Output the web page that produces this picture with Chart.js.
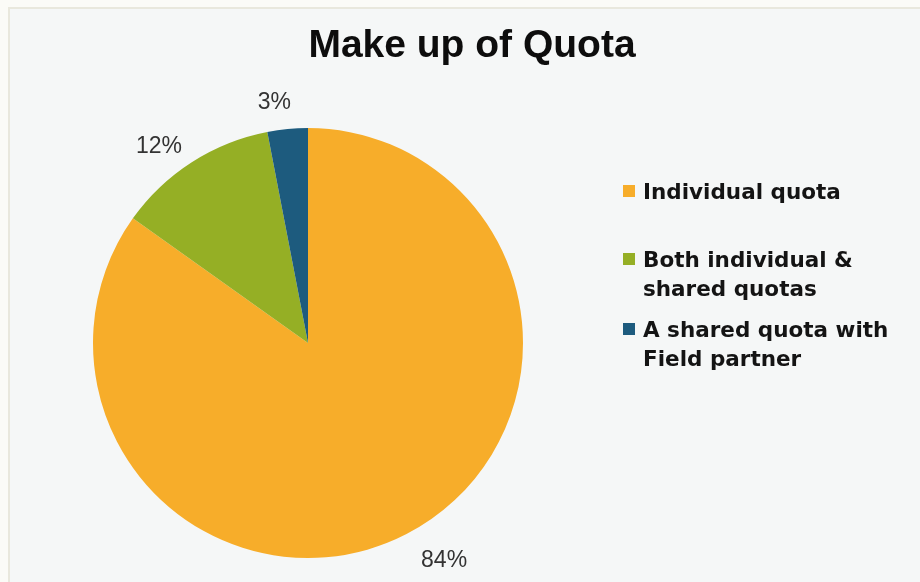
<!DOCTYPE html>
<html>
<head>
<meta charset="utf-8">
<script src="https://cdn.jsdelivr.net/npm/chart.js@4/dist/chart.umd.min.js"></script>
<style>
  html, body { margin: 0; padding: 0; }
  body { width: 920px; height: 582px; background: #FBFBF7; position: relative; overflow: hidden; }
  #frame { position: absolute; left: 8px; top: 7px; width: 912px; height: 575px;
           border-left: 2px solid #E9E8DD; border-top: 2px solid #E9E8DD; background: #F5F7F7; }
  #c { position: absolute; left: 0; top: 0; }
  #title { position: absolute; left: 12px; top: 24px; width: 920px; text-align: center;
           font: bold 39px "Liberation Sans", Arial, sans-serif; line-height: 39px; color: #0d0d0d; }
  .lg { position: absolute; left: 643px; font: bold 21.5px "DejaVu Sans", Verdana, sans-serif;
        line-height: 29px; color: #141414; white-space: nowrap; }
  .sw { position: absolute; left: 623px; width: 12px; height: 12px; }
</style>
</head>
<body>
<div id="frame"></div>
<canvas id="c" width="920" height="582"></canvas>
<div id="title">Make up of Quota</div>
<div id="legend"></div>
<script>
const categories = ["Individual quota", "Both individual & shared quotas", "A shared quota with Field partner"];
const legendLines = [["Individual quota"], ["Both individual &", "shared quotas"], ["A shared quota with", "Field partner"]];
const values = [84, 12, 3];
const colors = ["#F7AD2A", "#95AF25", "#1D5B7E"];

// HTML legend
const legendTops = [177, 245, 315];
const legend = document.getElementById('legend');
legendLines.forEach((lines, i) => {
  const sw = document.createElement('div');
  sw.className = 'sw';
  sw.style.top = (legendTops[i] + 8) + 'px';
  sw.style.background = colors[i];
  legend.appendChild(sw);
  const t = document.createElement('div');
  t.className = 'lg';
  t.style.top = legendTops[i] + 'px';
  t.innerHTML = lines.map(s => s.replace(/&/g, '&amp;')).join('<br>');
  legend.appendChild(t);
});

const outsideLabels = {
  id: 'outsideLabels',
  afterDatasetsDraw(chart) {
    const ctx = chart.ctx;
    const meta = chart.getDatasetMeta(0);
    ctx.save();
    ctx.font = '23px "Liberation Sans", Arial, sans-serif';
    ctx.fillStyle = '#333333';
    ctx.textAlign = 'center';
    ctx.textBaseline = 'middle';
    const gap = 24, shift = -3 * Math.PI / 180, h = 16;
    meta.data.forEach((arc, i) => {
      const p = arc.getProps(['x', 'y', 'startAngle', 'endAngle', 'outerRadius'], true);
      const mid = (p.startAngle + p.endAngle) / 2 + shift;
      const dx = Math.cos(mid), dy = Math.sin(mid);
      const text = values[i] + '%';
      const w = ctx.measureText(text).width;
      const x = p.x + dx * (p.outerRadius + gap) + dx * w / 2 + 4;
      const y = p.y + dy * (p.outerRadius + gap) + dy * h / 2 + 4;
      ctx.fillText(text, x, y);
    });
    ctx.restore();
  }
};

new Chart(document.getElementById('c'), {
  type: 'pie',
  data: {
    labels: categories,
    datasets: [{ data: values, backgroundColor: colors, borderWidth: 0 }]
  },
  options: {
    responsive: false,
    animation: false,
    layout: { padding: { left: 93, top: 128, right: 397, bottom: 24 } },
    plugins: { legend: { display: false }, tooltip: { enabled: false }, title: { display: false } }
  },
  plugins: [outsideLabels]
});
</script>
</body>
</html>
